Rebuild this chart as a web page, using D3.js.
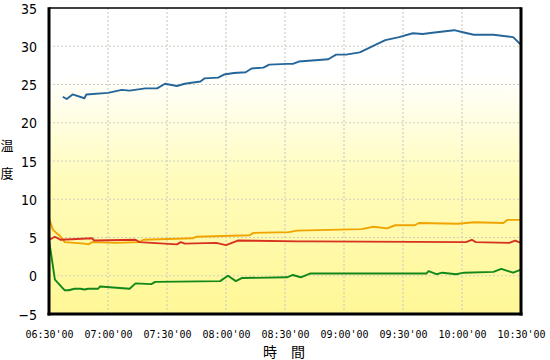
<!DOCTYPE html>
<html><head><meta charset="utf-8">
<script src="https://cdn.jsdelivr.net/npm/d3@7"></script>
<style>
html,body{margin:0;padding:0;background:#fff;}
svg{display:block;}
</style>
</head><body>
<svg id="chart" width="550" height="360"></svg>
<script>
// ---- data ----
const yTicks = [-5, 0, 5, 10, 15, 20, 25, 30, 35];
const xTickTimes = ["06:30","07:00","07:30","08:00","08:30","09:00","09:30","10:00","10:30"];
const xTitle = "時　間";
const yTitle = ["温", "度"];

const blueTimes = ["06:37","06:39","06:42","06:48","06:49","07:00","07:07","07:11","07:19","07:25","07:29","07:35","07:39","07:47","07:49","07:56","07:59","08:04","08:10","08:13","08:19","08:22","08:31","08:34","08:37","08:52","08:56","09:01","09:08","09:12","09:17","09:21","09:28","09:35","09:40","09:46","09:56","10:01","10:06","10:16","10:26","10:30"];
const blueVals  = [23.4,23.1,23.7,23.2,23.7,23.9,24.3,24.2,24.5,24.5,25.1,24.8,25.1,25.4,25.8,25.9,26.3,26.5,26.6,27.1,27.2,27.6,27.7,27.7,28.0,28.3,28.9,28.9,29.2,29.7,30.3,30.8,31.2,31.7,31.6,31.8,32.1,31.8,31.5,31.5,31.2,30.2];

const orangeTimes = ["06:30","06:32","06:36","06:38","06:48","06:50","06:52","07:04","07:16","07:18","07:43","07:45","08:12","08:14","08:32","08:36","09:09","09:15","09:22","09:26","09:36","09:38","09:58","10:06","10:21","10:23","10:30"];
const orangeVals  = [7.5,6.0,5.1,4.4,4.2,4.1,4.4,4.3,4.4,4.7,4.9,5.1,5.3,5.6,5.7,5.9,6.1,6.4,6.2,6.6,6.6,6.9,6.8,7.0,6.9,7.3,7.3];

const redTimes = ["06:30","06:33","06:36","06:52","06:53","07:14","07:16","07:35","07:37","07:39","07:55","08:00","08:06","08:37","08:43","10:02","10:05","10:07","10:24","10:27","10:30"];
const redVals  = [4.7,5.1,4.7,4.9,4.6,4.7,4.4,4.1,4.4,4.2,4.3,4.0,4.6,4.5,4.5,4.4,4.7,4.4,4.3,4.6,4.3];

const greenTimes = ["06:30","06:33","06:38","06:40","06:43","06:46","06:48","06:50","06:55","06:56","07:11","07:14","07:22","07:24","07:57","08:01","08:05","08:08","08:31","08:34","08:38","08:43","09:42","09:43","09:47","09:50","09:57","10:01","10:16","10:20","10:26","10:30"];
const greenVals  = [4.7,-0.5,-1.9,-1.9,-1.7,-1.7,-1.8,-1.7,-1.7,-1.4,-1.7,-1.0,-1.1,-0.8,-0.7,0.0,-0.7,-0.3,-0.2,0.1,-0.2,0.3,0.3,0.6,0.2,0.4,0.2,0.4,0.5,0.9,0.4,0.8];

const seriesColors = ["#24669a", "#f0a400", "#d6321e", "#12881a"];

// ---- drawing ----
const parseT = d3.timeParse("%H:%M");
const svg = d3.select("#chart");
const L = 49, R = 521, T = 8, B = 314;

const x = d3.scaleTime().domain([parseT("06:30"), parseT("10:30")]).range([L, R]);
const y = d3.scaleLinear().domain([-5, 35]).range([B, T]);

const defs = svg.append("defs");
const grad = defs.append("linearGradient").attr("id", "bg").attr("x1", 0).attr("y1", 0).attr("x2", 0).attr("y2", 1);
grad.append("stop").attr("offset", "0%").attr("stop-color", "#ffffff");
grad.append("stop").attr("offset", "22%").attr("stop-color", "#ffffff");
grad.append("stop").attr("offset", "55%").attr("stop-color", "#fffcbc");
grad.append("stop").attr("offset", "100%").attr("stop-color", "#fff796");

svg.append("rect").attr("x", L).attr("y", T).attr("width", R - L).attr("height", B - T).attr("fill", "url(#bg)");

// grid
const grid = svg.append("g");
grid.selectAll("line.h").data(yTicks.filter(d => d > -5 && d < 35)).enter().append("line")
  .attr("x1", L).attr("x2", R).attr("y1", d => y(d)).attr("y2", d => y(d))
  .attr("stroke", "#cfcfc4").attr("stroke-width", 1.2).attr("stroke-dasharray", "2,2");
const xTicks = xTickTimes.map(parseT);
grid.selectAll("line.v").data(xTicks.slice(1, -1)).enter().append("line")
  .attr("x1", d => x(d)).attr("x2", d => x(d)).attr("y1", T).attr("y2", B)
  .attr("stroke", "#cfcfc4").attr("stroke-width", 1.2).attr("stroke-dasharray", "2,2");

// lines
const line = d3.line().x(d => x(d[0])).y(d => y(d[1]));
const series = [
  [blueTimes, blueVals],
  [orangeTimes, orangeVals],
  [redTimes, redVals],
  [greenTimes, greenVals]
];
series.forEach((s, i) => {
  const pts = s[0].map((t, j) => [parseT(t), s[1][j]]);
  svg.append("path").datum(pts).attr("d", line)
    .attr("fill", "none").attr("stroke", seriesColors[i]).attr("stroke-width", 1.9)
    .attr("stroke-linejoin", "round");
});

// frame
svg.append("line").attr("x1", L).attr("x2", R).attr("y1", T).attr("y2", T).attr("stroke", "#000").attr("stroke-width", 1.5);
svg.append("line").attr("x1", L).attr("x2", L).attr("y1", T - 0.75).attr("y2", B + 1.5).attr("stroke", "#000").attr("stroke-width", 3);
svg.append("line").attr("x1", R).attr("x2", R).attr("y1", T - 0.75).attr("y2", B + 1.5).attr("stroke", "#000").attr("stroke-width", 3);
svg.append("line").attr("x1", L - 1.5).attr("x2", R + 1.5).attr("y1", B).attr("y2", B).attr("stroke", "#000").attr("stroke-width", 3);

// y axis labels
const yAxis = d3.axisLeft(y).tickValues(yTicks).tickSize(0).tickPadding(0);
const gy = svg.append("g").attr("transform", `translate(37,0)`).call(yAxis);
gy.select(".domain").remove();
gy.selectAll("text").attr("font-family", "'DejaVu Sans Condensed','Liberation Sans Narrow',sans-serif")
  .attr("font-size", "14px").attr("fill", "#000").attr("dy", "0.36em");

// x axis labels
const xAxis = d3.axisBottom(x).tickValues(xTicks).tickSize(0).tickPadding(0)
  .tickFormat(d3.timeFormat("%H:%M'%S"));
const gx = svg.append("g").attr("transform", `translate(0,331)`).call(xAxis);
gx.select(".domain").remove();
gx.selectAll("text").attr("font-family", "'DejaVu Sans Mono',monospace")
  .attr("font-size", "10px").attr("fill", "#000").attr("dy", "0.71em");

// titles
svg.append("text").attr("x", 284).attr("y", 357).attr("text-anchor", "middle")
  .attr("font-family", "'Noto Sans CJK JP',sans-serif").attr("font-size", "14px").attr("fill", "#000")
  .text(xTitle);
svg.append("g").selectAll("text").data(yTitle).enter().append("text")
  .attr("x", 7).attr("y", (d, i) => 150 + i * 28).attr("text-anchor", "middle")
  .attr("font-family", "'Noto Sans CJK JP',sans-serif").attr("font-size", "13px").attr("fill", "#000")
  .text(d => d);
</script>
</body></html>
